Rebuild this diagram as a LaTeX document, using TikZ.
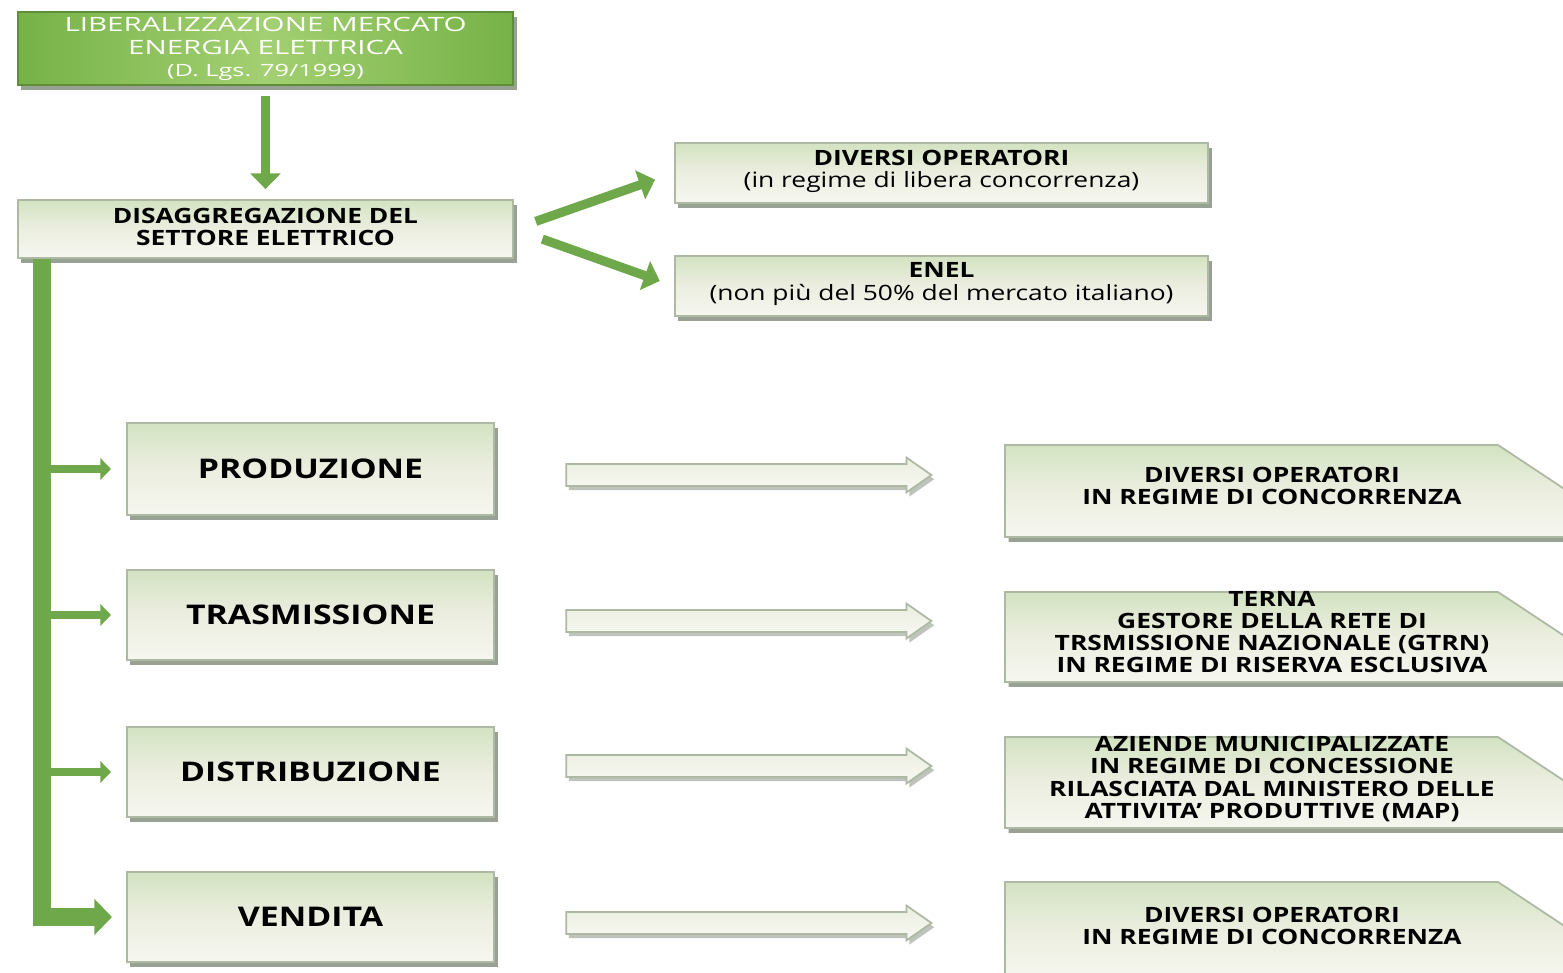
\documentclass[tikz,border=0pt]{standalone}
\usepackage{fontspec}
\setmainfont{Open Sans}[FakeStretch=1.25]
\usetikzlibrary{arrows.meta, positioning, shapes.arrows, shadows, calc}
\definecolor{cgreen}{HTML}{6FA84A}
\definecolor{ctitle}{HTML}{76B247}
\definecolor{ctitlelt}{HTML}{A3D072}
\definecolor{ccream}{HTML}{ECEEE0}
\definecolor{cstripe}{HTML}{D3E3C2}
\definecolor{cedge}{HTML}{AEB9A4}
\definecolor{cshadow}{HTML}{7F8A78}
\tikzset{
  every picture/.style={line width=0.5pt},
  box/.style={draw=cedge, top color=cstripe, bottom color=ccream!50!white, middle color=ccream,
    drop shadow={shadow xshift=1pt, shadow yshift=-1.4pt, fill=cshadow, opacity=0.8}, inner sep=0pt},
  label/.style={align=center, inner sep=0pt, font=\bfseries\fontsize{6}{6.3}\selectfont},
  big/.style={font=\bfseries\fontsize{7.7}{9}\selectfont},
  garrow/.style={draw=cgreen, line width=2.8pt, -{Triangle[length=4.5pt, width=8.5pt]}},
  branch/.style={draw=cgreen, line width=2.3pt, -{Triangle[length=3pt, width=6pt]}, shorten >=0.15cm},
  trunk/.style={draw=cgreen, line width=5pt, -{Triangle[length=5pt, width=10pt]}, shorten >=0.14cm},
  bigarrow/.style={shape=single arrow, draw=cedge, top color=ccream, bottom color=ccream!40!white,
    inner xsep=0pt, inner ysep=0.1cm, single arrow head extend=0.065cm, single arrow tip angle=70,
    minimum height=3.65cm, drop shadow={shadow xshift=0.8pt, shadow yshift=-1.2pt, fill=cshadow, opacity=0.5}},
}

\begin{document}
\begin{tikzpicture}[x=0.01cm, y=-0.01cm]
  \useasboundingbox (0,0) rectangle (1563,973);
  \fill[white] (0,0) rectangle (1563,973);
  % top of the tree
  \node[box, draw=ctitle!80!black, left color=ctitle, right color=ctitle, middle color=ctitlelt,
    minimum width=4.95cm, minimum height=0.73cm] (title) at (265.5,48.5) {};
  \node[align=center, text=white, font=\addfontfeatures{FakeStretch=1.5}\fontsize{5.6}{6.3}\selectfont] at (265.5,49)
    {LIBERALIZZAZIONE MERCATO\\ENERGIA ELETTRICA\\{\fontsize{4.8}{6}\selectfont (D. Lgs. 79/1999)}};
  \node[box, minimum width=4.95cm, minimum height=0.58cm] (disagg) at (265.5,229) {};
  \node[label] at (265.5,227) {DISAGGREGAZIONE DEL\\SETTORE ELETTRICO};
  \node[box, minimum width=5.33cm, minimum height=0.6cm] (diversi) at (941.5,173) {};
  \node[label] at (941.5,171) {DIVERSI OPERATORI\\{\mdseries (in regime di libera concorrenza)}};
  \node[box, minimum width=5.33cm, minimum height=0.6cm] (enel) at (941.5,286) {};
  \node[label] at (941.5,284) {ENEL\\{\mdseries (non più del 50\% del mercato italiano)}};
  \draw[garrow, shorten <=0.1cm, shorten >=0.1cm] (title) -- (disagg);
  \draw[garrow, line width=2.6pt, shorten <=0.23cm, shorten >=0.2cm] (disagg.east) -- (diversi.west);
  \draw[garrow, line width=2.6pt, shorten <=0.3cm, shorten >=0.15cm] (disagg.east) -- (enel.west);
  % the four activities
  \node[box, big, minimum width=3.67cm, minimum height=0.92cm] (prod) at (310.5,469) {PRODUZIONE};
  \node[box, big, minimum width=3.67cm, minimum height=0.9cm] (trasm) at (310.5,615) {TRASMISSIONE};
  \node[box, big, minimum width=3.67cm, minimum height=0.9cm] (distr) at (310.5,772) {DISTRIBUZIONE};
  \node[box, big, minimum width=3.67cm, minimum height=0.9cm] (vend) at (310.5,917) {VENDITA};
  \coordinate (trunk) at ([xshift=0.25cm]disagg.south west);
  \draw[trunk] (trunk) |- (vend.west);
  \foreach \n in {prod, trasm, distr}
    \draw[branch] (trunk |- \n.west) -- (\n.west);
  \foreach \n/\y in {aprod/475, atrasm/621, adistr/766, avend/923}
    \node[bigarrow] (\n) at (741,\y) {};
  % right-hand boxes, top right corner cut
  \foreach \t/\b in {445/537, 592/682, 737/828, 882/980}
    \path[box] (1005,\t) -- (1498,\t) -- (1578,{\t+53}) -- (1578,\b) -- (1005,\b) -- cycle;
  \node[label] (prodR) at (1272,486) {DIVERSI OPERATORI\\IN REGIME DI CONCORRENZA};
  \node[label] (trasmR) at (1272,632) {TERNA\\GESTORE DELLA RETE DI\\TRSMISSIONE NAZIONALE (GTRN)\\IN REGIME DI RISERVA ESCLUSIVA};
  \node[label] (distrR) at (1272,779) {AZIENDE MUNICIPALIZZATE\\IN REGIME DI CONCESSIONE\\RILASCIATA DAL MINISTERO DELLE\\ATTIVITA’ PRODUTTIVE (MAP)};
  \node[label] (vendR) at (1272,926) {DIVERSI OPERATORI\\IN REGIME DI CONCORRENZA};
\end{tikzpicture}
\end{document}
